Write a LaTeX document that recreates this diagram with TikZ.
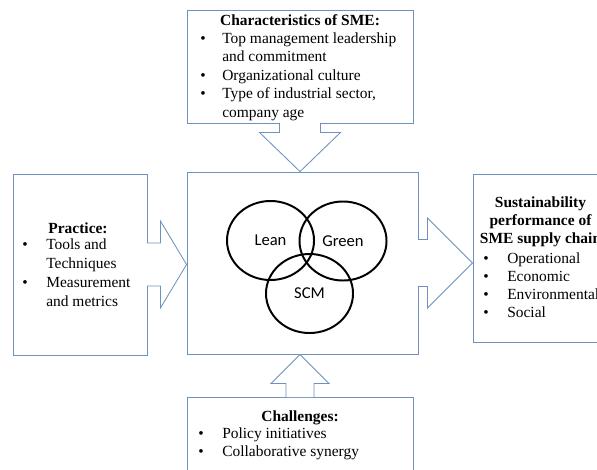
\documentclass[tikz,border=0pt]{standalone}
\usepackage{fontspec}
\setmainfont{Liberation Serif}
\newfontfamily\vennfont{Carlito}
\usetikzlibrary{shapes.geometric,calc}
\definecolor{boxblue}{RGB}{110,145,190}

\begin{document}
\begin{tikzpicture}[
  x=0.025cm,
  y=-0.025cm,
  box/.style={
    draw=boxblue,
    line width=0.6pt,
    fill=white,
    inner sep=0pt
  },
  blockarrow/.style={
    draw=boxblue,
    line width=0.6pt,
    fill=white,
    line join=miter
  },
  circ/.style={
    ellipse,
    draw,
    line width=1.4pt,
    inner sep=0pt,
    minimum width=2.175cm,
    minimum height=1.975cm,
    font=\vennfont\fontsize{11.8}{14}\selectfont
  },
  title/.style={
    anchor=base,
    inner sep=0pt,
    font=\fontsize{11}{12.8}\selectfont\bfseries
  },
  items/.style={
    anchor=base west,
    inner sep=0pt,
    font=\fontsize{11}{13.2}\selectfont
  }
]

\useasboundingbox (0,0) rectangle (597,469);
\clip (0,0) rectangle (597,469);

\node[box, minimum width=5.65cm, minimum height=2.825cm] (sme) at (300,66.5) {};
\node[box, minimum width=3.35cm, minimum height=4.525cm] (prac) at (80,264.5) {};
\node[box, minimum width=5.775cm, minimum height=4.55cm] (core) at (302.5,263) {};
\node[box, minimum width=3.275cm, minimum height=4.2cm] (perf) at (538.5,258) {};
\node[box, minimum width=5.65cm, minimum height=2.325cm] (chal) at (300,443.5) {};

\path[blockarrow] ($(sme.south)+(-20.5,-0.5)$) -- ($(sme.south)+(-20.5,9)$)
  -- ($(sme.south)+(-40.5,9)$) -- (sme.south |- core.north)
  -- ($(sme.south)+(40.5,9)$) -- ($(sme.south)+(20.5,9)$)
  -- ($(sme.south)+(20.5,-0.5)$);
\path[blockarrow] ($(prac.east)+(-0.5,-21.5)$) -- ($(prac.east)+(13,-21.5)$)
  -- ($(prac.east)+(13,-43.5)$) -- (core.west |- prac.east)
  -- ($(prac.east)+(13,43.5)$) -- ($(prac.east)+(13,21.5)$)
  -- ($(prac.east)+(-0.5,21.5)$);
\path[blockarrow] ($(core.east)+(-0.5,-23.5)$) -- ($(core.east)+(9,-23.5)$)
  -- ($(core.east)+(9,-45)$) -- (perf.west |- core.east)
  -- ($(core.east)+(9,45)$) -- ($(core.east)+(9,23.5)$)
  -- ($(core.east)+(-0.5,23.5)$);
\path[blockarrow] ($(chal.north)+(-14,0.5)$) -- ($(chal.north)+(-14,-13)$)
  -- ($(chal.north)+(-29,-13)$) -- (chal.north |- core.south)
  -- ($(chal.north)+(29,-13)$) -- ($(chal.north)+(14,-13)$)
  -- ($(chal.north)+(14,0.5)$);

\node[circ] (lean) at (270.5,240.5) {Lean};
\node[circ] (green) at (343,241) {Green};
\node[circ] (scm) at (309.5,293.5) {SCM};

\node[title] (smetitle) at (300,25) {Characteristics of SME:};
\node[items] (smeitems) at (200,43) {\begin{tabular}[t]{@{}p{0.55cm}@{}l@{}}
  \textbullet & Top management leadership\\
              & and commitment\\
  \textbullet & Organizational culture\\
  \textbullet & Type of industrial sector,\\
              & company age
\end{tabular}};

\node[title] (practitle) at (78,233) {Practice:};
\node[items, font=\fontsize{11}{13.7}\selectfont] (pracitems) at (22,249) {\begin{tabular}[t]{@{}p{0.6cm}@{}l@{}}
  \textbullet & Tools and\\
              & Techniques\\
  \textbullet & Measurement\\
              & and metrics
\end{tabular}};

\node[title] (perftitle) at (540.5,207) {\begin{tabular}[t]{@{}c@{}}
  Sustainability\\
  performance of\\
  SME supply chain
\end{tabular}};
\node[items, font=\fontsize{11}{13}\selectfont] (perfitems) at (483,263) {\begin{tabular}[t]{@{}p{0.6cm}@{}l@{}}
  \textbullet & Operational\\
  \textbullet & Economic\\
  \textbullet & Environmental\\
  \textbullet & Social
\end{tabular}};

\node[title] (chaltitle) at (300,421) {Challenges:};
\node[items, font=\fontsize{11}{13.5}\selectfont] (chalitems) at (198,438) {\begin{tabular}[t]{@{}p{0.6cm}@{}l@{}}
  \textbullet & Policy initiatives\\
  \textbullet & Collaborative synergy
\end{tabular}};

\end{tikzpicture}
\end{document}
